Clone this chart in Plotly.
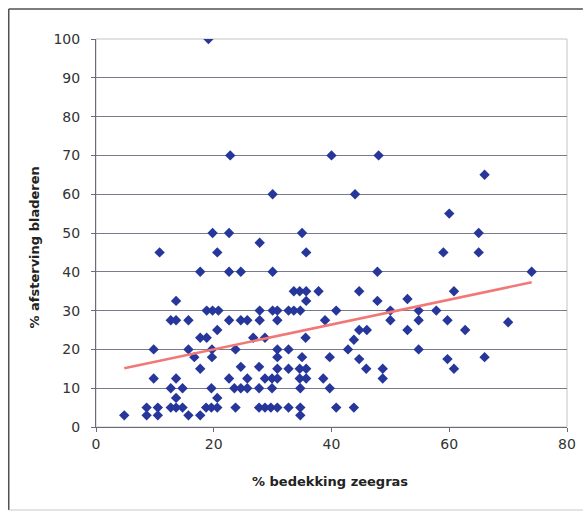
import numpy as np
import plotly.graph_objects as go

# % seagrass cover (x) and % leaf dieback (y), one entry per sample
cover = [4.8, 8.6, 8.6, 9.8, 9.8, 10.5, 10.5, 10.8,
         12.7, 12.7, 12.7, 13.6, 13.6, 13.6, 13.6, 13.6, 14.7, 14.7,
         15.7, 15.7, 15.7, 16.7, 17.7, 17.7, 17.7, 17.7, 18.8, 18.8, 18.7,
         19.1, 19.8, 19.8, 19.7, 19.7, 19.6, 19.6, 20.6, 20.8, 20.6, 20.6, 20.6,
         22.6, 22.6, 22.6, 22.6, 22.8, 23.7, 23.5, 23.7, 24.6, 24.6, 24.6, 24.6,
         25.7, 25.7, 25.7, 26.7, 27.8, 27.8, 27.8, 27.7, 27.7, 27.7, 28.7, 28.7, 28.7,
         30.0, 30.0, 30.0, 29.9, 29.9, 29.7, 30.8, 30.8, 30.8, 30.8, 30.8, 30.8, 30.8,
         32.7, 32.7, 32.7, 32.7, 33.6, 33.6, 35.0, 34.6, 34.7, 35.0, 34.6, 34.6, 34.7, 34.7, 34.7,
         35.7, 35.7, 35.7, 35.6, 35.7, 35.7, 37.8, 38.9, 38.6, 39.7, 39.7, 40.0, 40.8, 40.8,
         42.8, 43.8, 43.8, 44.0, 44.7, 44.7, 44.7, 46.0, 45.9, 48.0, 47.8, 47.8, 48.7, 48.7,
         50.0, 50.0, 52.9, 52.9, 54.8, 54.8, 54.8, 57.8, 59.0, 60.0, 59.7, 59.7, 60.8, 60.8,
         62.7, 65.0, 65.0, 66.0, 66.0, 70.0, 74.0]

dieback = [3, 5, 3, 20, 12.5, 5, 3, 45,
           27.5, 10, 5, 32.5, 27.5, 12.5, 7.5, 5, 10, 5,
           27.5, 20, 3, 18, 40, 23, 15, 3, 30, 23, 5,
           100, 50, 30, 20, 18, 10, 5, 45, 30, 25, 7.5, 5,
           50, 40, 27.5, 12.5, 70, 20, 10, 5, 40, 27.5, 15.5, 10,
           27.5, 12.5, 10, 23, 47.5, 30, 27.5, 15.5, 10, 5, 23, 12.5, 5,
           60, 40, 30, 12.5, 10, 5, 30, 27.5, 20, 18, 15, 12.5, 5,
           30, 20, 15, 5, 35, 30, 50, 35, 30, 18, 15, 12.5, 10, 5, 3,
           45, 35, 32.5, 23, 15, 12.5, 35, 27.5, 12.5, 18, 10, 70, 30, 5,
           20, 22.5, 5, 60, 35, 25, 17.5, 25, 15, 70, 40, 32.5, 15, 12.5,
           30, 27.5, 33, 25, 30, 27.5, 20, 30, 45, 55, 27.5, 17.5, 35, 15,
           25, 50, 45, 65, 18, 27, 40]

x_ticks = [0, 20, 40, 60, 80]
y_ticks = [0, 10, 20, 30, 40, 50, 60, 70, 80, 90, 100]

x_title = "% bedekking zeegras"
y_title = "% afsterving bladeren"

# linear trend line over the observed cover range
slope, intercept = np.polyfit(cover, dieback, 1)
fit_x = np.array([min(cover), max(cover)])
fit_y = slope * fit_x + intercept

W, H = 588, 512
L, R, T, B = 96, 17, 39, 85
PW, PH = W - L - R, H - T - B


def px(xp):
    return (xp - L) / PW


def py(yp):
    return (H - B - yp) / PH


fig = go.Figure()
fig.add_trace(go.Scatter(
    x=cover, y=dieback, mode="markers",
    marker=dict(symbol="diamond", size=8, color="#26369a", line=dict(width=0)),
    showlegend=False, hoverinfo="x+y",
))
fig.add_trace(go.Scatter(
    x=fit_x, y=fit_y, mode="lines",
    line=dict(color="#f27878", width=2.5),
    showlegend=False, hoverinfo="skip",
))

tick_font = dict(family="DejaVu Sans", size=14, color="#333333")
title_font = dict(family="DejaVu Sans", size=13, color="#222222")

fig.update_layout(
    width=W, height=H,
    margin=dict(l=L, r=R, t=T, b=B, pad=0),
    paper_bgcolor="white", plot_bgcolor="white",
    xaxis=dict(
        range=[0, 80], tickvals=x_ticks, ticktext=[str(v) for v in x_ticks],
        showgrid=False, zeroline=False, showline=True, linecolor="#6a6a78", linewidth=1,
        ticks="outside", ticklen=4, tickcolor="#6a6a78", tickfont=tick_font,
        fixedrange=True,
    ),
    yaxis=dict(
        range=[0, 100], tickvals=y_ticks, ticktext=[str(v) for v in y_ticks],
        showgrid=True, gridcolor="#7a7a8e", gridwidth=1, zeroline=False,
        showline=True, linecolor="#6a6a78", linewidth=1,
        ticks="outside", ticklen=4, tickcolor="#6a6a78", tickfont=tick_font,
        ticklabelstandoff=8, fixedrange=True,
    ),
    shapes=[
        # plot-area frame
        dict(type="rect", xref="paper", yref="paper", x0=0, x1=1, y0=0, y1=1,
             line=dict(color="#c4c4c4", width=1), layer="below"),
        # chart-area frame
        dict(type="line", xref="paper", yref="paper", x0=px(8), x1=px(8), y0=py(9), y1=py(510),
             line=dict(color="#505050", width=1.5)),
        dict(type="line", xref="paper", yref="paper", x0=px(8), x1=px(587), y0=py(9), y1=py(9),
             line=dict(color="#505050", width=1.5)),
        dict(type="line", xref="paper", yref="paper", x0=px(8), x1=px(587), y0=py(510), y1=py(510),
             line=dict(color="#c8c8c8", width=1)),
    ],
    annotations=[
        dict(text=f"<b>{x_title}</b>", xref="paper", yref="paper", x=px(332), y=py(481),
             xanchor="center", yanchor="middle", showarrow=False, font=title_font),
        dict(text=f"<b>{y_title}</b>", xref="paper", yref="paper", x=px(33), y=py(248),
             xanchor="center", yanchor="middle", showarrow=False, textangle=-90, font=title_font),
    ],
)

fig.write_html("out.html")
